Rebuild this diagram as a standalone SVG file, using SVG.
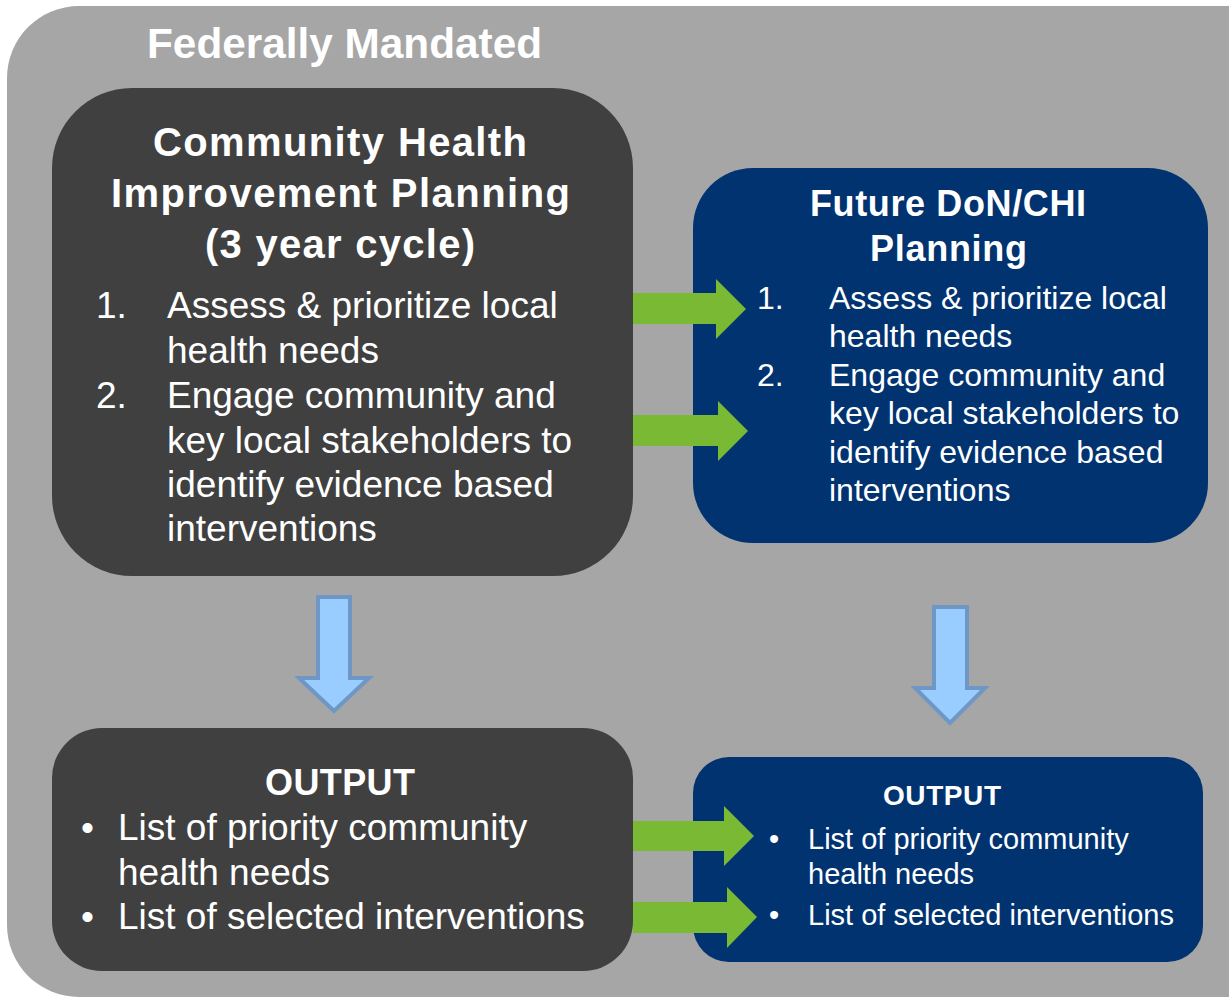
<svg xmlns="http://www.w3.org/2000/svg" width="1229" height="998" viewBox="0 0 1229 998">
<style>
text{font-family:"Liberation Sans",Arial,sans-serif;fill:#fff}
.b{font-weight:bold}
.g{fill:#7ab934}
.d{fill:#99ccff;stroke:#6f97c5;stroke-width:4}
</style>
<rect x="7" y="6" width="1290" height="991" rx="72" fill="#a6a6a6"/>
<text class="b" x="147" y="58" font-size="42" textLength="395" lengthAdjust="spacingAndGlyphs">Federally Mandated</text>
<g id="chip">
<rect x="52" y="88" width="581" height="488" rx="80" fill="#404040"/>
<g class="b" font-size="40"><text x="153" y="156" textLength="374">Community Health</text><text x="111" y="207" textLength="459">Improvement Planning</text><text x="205" y="258" textLength="270">(3 year cycle)</text></g>
<g font-size="37"><text x="96" y="318">1.</text><text x="167" y="318">Assess &amp; prioritize local</text><text x="167" y="363">health needs</text><text x="96" y="408">2.</text><text x="167" y="408">Engage community and</text><text x="167" y="453">key local stakeholders to</text><text x="167" y="497">identify evidence based</text><text x="167" y="541">interventions</text></g>
</g>
<g id="future">
<rect x="693" y="168" width="515" height="375" rx="60" fill="#003370"/>
<g class="b" font-size="36"><text x="810" y="216" textLength="276">Future DoN/CHI</text><text x="870" y="261" textLength="157">Planning</text></g>
<g font-size="32"><text x="757" y="309">1.</text><text x="829" y="309">Assess &amp; prioritize local</text><text x="829" y="347">health needs</text><text x="757" y="386">2.</text><text x="829" y="386">Engage community and</text><text x="829" y="424">key local stakeholders to</text><text x="829" y="463">identify evidence based</text><text x="829" y="501">interventions</text></g>
</g>
<g id="output1">
<rect x="52" y="728" width="581" height="243" rx="50" fill="#404040"/>
<text class="b" x="265" y="795" font-size="36" textLength="150">OUTPUT</text>
<g font-size="37"><text x="81" y="840">•</text><text x="118" y="840">List of priority community</text><text x="118" y="885">health needs</text><text x="81" y="929">•</text><text x="118" y="929">List of selected interventions</text></g>
</g>
<g id="output2">
<rect x="693" y="757" width="510" height="205" rx="36" fill="#003370"/>
<text class="b" x="883" y="805" font-size="28" textLength="118">OUTPUT</text>
<g font-size="29"><text x="769" y="849">•</text><text x="808" y="849">List of priority community</text><text x="808" y="884">health needs</text><text x="769" y="925">•</text><text x="808" y="925">List of selected interventions</text></g>
</g>
<g id="connectors">
<polygon class="g" points="633,293 716,293 716,279 746,309 716,339 716,324 633,324"/>
<polygon class="g" points="633,415 718,415 718,401 748,431 718,461 718,446 633,446"/>
<polygon class="g" points="633,821 724,821 724,806 754,836 724,866 724,851 633,851"/>
<polygon class="g" points="633,902 727,902 727,887 757,917 727,948 727,933 633,933"/>
<polygon class="d" points="318,597 350,597 350,678 369,678 334,711 299,678 318,678"/>
<polygon class="d" points="934,607 967,607 967,688 985,688 950,723 915,688 934,688"/>
</g>
</svg>
